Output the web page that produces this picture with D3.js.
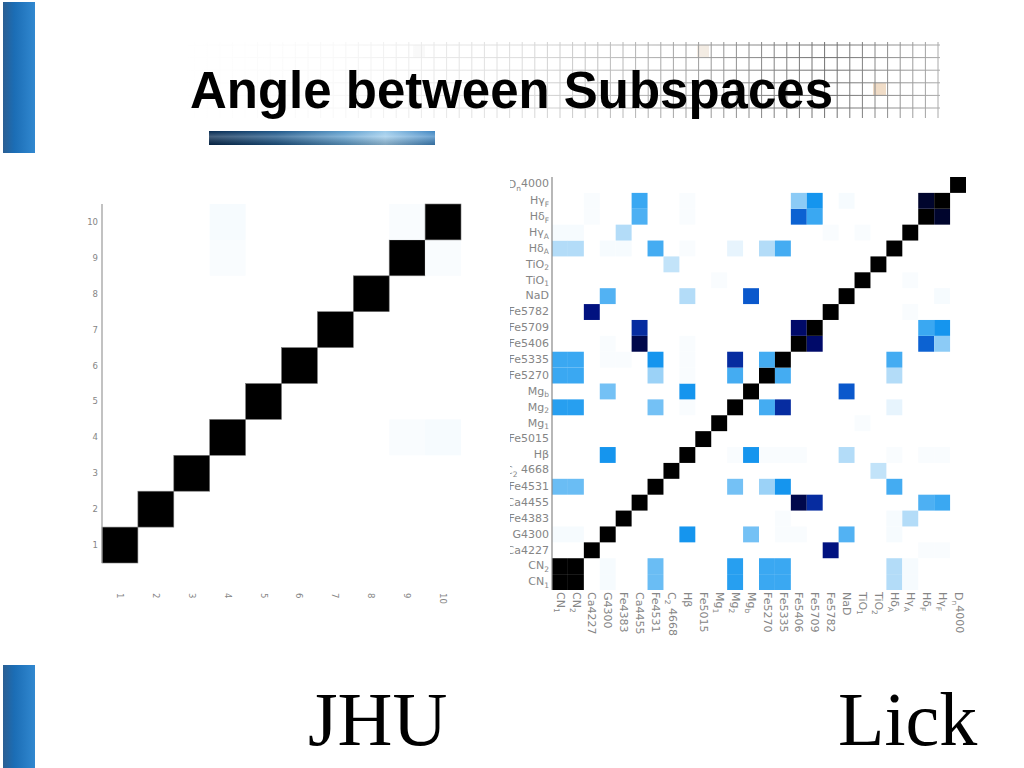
<!DOCTYPE html>
<html>
<head>
<meta charset="utf-8">
<script src="https://cdn.jsdelivr.net/npm/d3@7"></script>
<style>
  html, body { margin: 0; padding: 0; background: #ffffff; }
  svg { display: block; }
  .lab { font-family: "DejaVu Sans", "Liberation Sans", Arial, sans-serif; fill: #858585; }
</style>
</head>
<body>
<svg id="slide" width="1024" height="768"></svg>
<script>
// ---------------- DATA ----------------
const titleText = "Angle between Subspaces";
const leftCaption = "JHU";
const rightCaption = "Lick";

// JHU: 10 x 10 subspace indices
const jhuLabels = ["1","2","3","4","5","6","7","8","9","10"];
// off-diagonal (i, j, value) pairs, symmetric; diagonal = 1
const jhuPairs = [
  [3, 8, 0.025], [3, 9, 0.025], [8, 9, 0.02], [8, 3, 0.02], [9, 3, 0.03]
];

// Lick indices (bottom-to-top on y, left-to-right on x)
const lickLabels = ["CN_1","CN_2","Ca4227","G4300","Fe4383","Ca4455","Fe4531","C_2 4668",
  "Hβ","Fe5015","Mg_1","Mg_2","Mg_b","Fe5270","Fe5335","Fe5406","Fe5709","Fe5782",
  "NaD","TiO_1","TiO_2","Hδ_A","Hγ_A","Hδ_F","Hγ_F","D_n4000"];
// off-diagonal (i, j, value) pairs, symmetric; diagonal = 1
const lickPairs = [
  [0,1,1.0],
  [0,3,0.03],[1,3,0.03],
  [0,6,0.40],[1,6,0.40],
  [0,11,0.55],[1,11,0.55],
  [0,13,0.50],[1,13,0.50],
  [0,14,0.50],[1,14,0.50],
  [0,21,0.25],[1,21,0.25],
  [0,22,0.03],[1,22,0.03],
  [2,17,0.90],[2,23,0.02],[2,24,0.02],
  [3,8,0.60],[3,12,0.38],[3,18,0.45],[3,14,0.02],[3,15,0.02],[3,21,0.03],
  [4,22,0.25],[4,14,0.02],[4,21,0.03],
  [5,15,0.95],[5,16,0.82],[5,23,0.46],[5,24,0.50],
  [6,11,0.38],[6,13,0.30],[6,14,0.60],[6,21,0.48],
  [7,20,0.20],
  [8,12,0.60],[8,18,0.25],[8,11,0.02],[8,13,0.02],[8,14,0.02],[8,15,0.02],[8,21,0.02],[8,23,0.02],[8,24,0.02],
  [10,19,0.02],
  [11,13,0.48],[11,14,0.82],[11,21,0.08],
  [12,18,0.72],
  [13,14,0.48],[13,21,0.25],
  [14,21,0.48],
  [15,16,0.93],[15,23,0.70],[15,24,0.33],
  [16,23,0.50],[16,24,0.60],
  [17,22,0.02],[18,24,0.03],[19,22,0.02],
  [23,24,0.97]
];

// ---------------- HELPERS ----------------
const svg = d3.select("#slide");
const defs = svg.append("defs");

const colour = d3.scaleLinear()
  .domain([0, 0.25, 0.5, 0.6, 0.72, 0.82, 0.92, 1])
  .range(["#ffffff", "#b3dcf8", "#3aa8f2", "#1595ee", "#0a58cc", "#062ca0", "#000c78", "#000000"])
  .clamp(true);

function buildMatrix(n, pairs) {
  const m = d3.range(n).map(() => d3.range(n).map(() => 0));
  for (let i = 0; i < n; i++) m[i][i] = 1;
  pairs.forEach(([i, j, v]) => { m[i][j] = v; m[j][i] = v; });
  const cells = [];
  for (let i = 0; i < n; i++) for (let j = 0; j < n; j++) if (m[i][j] > 0) cells.push({ i, j, v: m[i][j] });
  return cells;
}

// write a label with "_x" subscript syntax into a text selection
function writeLabel(sel, label, subSize) {
  const k = label.indexOf("_");
  if (k < 0) { sel.text(label); return; }
  sel.append("tspan").text(label.slice(0, k));
  sel.append("tspan").attr("dy", "0.35em").attr("font-size", subSize).text(label.charAt(k + 1));
  const rest = label.slice(k + 2);
  if (rest.length) sel.append("tspan").attr("dy", "-0.35em").text(rest);
}

// ---------------- DECORATION ----------------
// side bars
const barGrad = defs.append("linearGradient").attr("id", "barGrad").attr("x1", 0).attr("x2", 1).attr("y1", 0).attr("y2", 0);
barGrad.append("stop").attr("offset", "0%").attr("stop-color", "#2b5f93");
barGrad.append("stop").attr("offset", "35%").attr("stop-color", "#1b6db5");
barGrad.append("stop").attr("offset", "100%").attr("stop-color", "#3188d0");
svg.append("rect").attr("x", 3).attr("y", 2).attr("width", 32).attr("height", 151).attr("fill", "url(#barGrad)");
svg.append("rect").attr("x", 3).attr("y", 665).attr("width", 32).attr("height", 103).attr("fill", "url(#barGrad)");

// fading grid behind the title
const gridFade = defs.append("linearGradient").attr("id", "gridFade").attr("gradientUnits", "userSpaceOnUse")
  .attr("x1", 180).attr("x2", 945).attr("y1", 0).attr("y2", 0);
gridFade.append("stop").attr("offset", "0%").attr("stop-color", "#fff").attr("stop-opacity", 0);
gridFade.append("stop").attr("offset", "20%").attr("stop-color", "#fff").attr("stop-opacity", 0.04);
gridFade.append("stop").attr("offset", "45%").attr("stop-color", "#fff").attr("stop-opacity", 0.2);
gridFade.append("stop").attr("offset", "85%").attr("stop-color", "#fff").attr("stop-opacity", 0.8);
gridFade.append("stop").attr("offset", "100%").attr("stop-color", "#fff").attr("stop-opacity", 0.45);
const gridMask = defs.append("mask").attr("id", "gridMask");
gridMask.append("rect").attr("x", 0).attr("y", 0).attr("width", 1024).attr("height", 200).attr("fill", "url(#gridFade)");

const grid = svg.append("g").attr("mask", "url(#gridMask)");
const gxs = d3.range(938, 185, -12.6);
const gys = d3.range(0, 6).map(k => 45 + 12.6 * k);
grid.append("rect").attr("x", 873).attr("y", 83).attr("width", 13).attr("height", 12).attr("fill", "#e8c9a8");
grid.append("rect").attr("x", 697).attr("y", 45).attr("width", 12).attr("height", 12).attr("fill", "#eadccd");
grid.append("rect").attr("x", 413).attr("y", 45).attr("width", 12).attr("height", 12).attr("fill", "#cccccc");
grid.selectAll("line.gv").data(gxs).join("line").attr("class", "gv")
  .attr("x1", d => d).attr("x2", d => d).attr("y1", 42).attr("y2", 118)
  .attr("stroke", "#4a4a4a").attr("stroke-width", 1);
grid.selectAll("line.gh").data(gys).join("line").attr("class", "gh")
  .attr("x1", 185).attr("x2", 940).attr("y1", d => d).attr("y2", d => d)
  .attr("stroke", "#4a4a4a").attr("stroke-width", 1);

// title
svg.append("text").attr("x", 190).attr("y", 108)
  .attr("font-family", "'Liberation Sans', Arial, Helvetica, sans-serif")
  .attr("font-weight", "bold").attr("font-size", 51)
  .attr("textLength", 643).attr("lengthAdjust", "spacingAndGlyphs")
  .attr("fill", "#000").text(titleText);

// underline bar
const ulGrad = defs.append("linearGradient").attr("id", "ulGrad").attr("x1", 0).attr("x2", 1).attr("y1", 0).attr("y2", 0);
ulGrad.append("stop").attr("offset", "0%").attr("stop-color", "#072a50");
ulGrad.append("stop").attr("offset", "30%").attr("stop-color", "#1d5688");
ulGrad.append("stop").attr("offset", "60%").attr("stop-color", "#5d9dcc");
ulGrad.append("stop").attr("offset", "78%").attr("stop-color", "#9ccbeb");
ulGrad.append("stop").attr("offset", "100%").attr("stop-color", "#3f86c2");
const ulShade = defs.append("linearGradient").attr("id", "ulShade").attr("x1", 0).attr("x2", 0).attr("y1", 0).attr("y2", 1);
ulShade.append("stop").attr("offset", "0%").attr("stop-color", "#fff").attr("stop-opacity", 0.0);
ulShade.append("stop").attr("offset", "40%").attr("stop-color", "#fff").attr("stop-opacity", 0.25);
ulShade.append("stop").attr("offset", "100%").attr("stop-color", "#000").attr("stop-opacity", 0.2);
svg.append("rect").attr("x", 209).attr("y", 131).attr("width", 226).attr("height", 14).attr("fill", "url(#ulGrad)");
svg.append("rect").attr("x", 209).attr("y", 131).attr("width", 226).attr("height", 14).attr("fill", "url(#ulShade)");

// ---------------- JHU HEATMAP ----------------
(function () {
  const n = jhuLabels.length;
  const x = d3.scaleBand().domain(d3.range(n)).range([102, 461]).padding(0);
  const y = d3.scaleBand().domain(d3.range(n)).range([563, 204]).padding(0);
  const g = svg.append("g");
  const cells = buildMatrix(n, jhuPairs);
  g.selectAll("rect.c").data(cells).join("rect").attr("class", "c")
    .attr("x", d => x(d.i)).attr("y", d => y(d.j))
    .attr("width", x.bandwidth()).attr("height", y.bandwidth())
    .attr("fill", d => colour(d.v))
    .attr("stroke", d => d.v >= 0.99 ? "#777" : "none").attr("stroke-width", 0.6);
  g.append("line").attr("x1", 102).attr("x2", 102).attr("y1", 204).attr("y2", 563)
    .attr("stroke", "#999").attr("stroke-width", 1.2);
  g.selectAll("text.yl").data(jhuLabels).join("text").attr("class", "yl lab")
    .attr("x", 98).attr("y", (d, i) => y(i) + y.bandwidth() / 2)
    .attr("dy", "0.35em").attr("text-anchor", "end").attr("font-size", 8.5).text(d => d);
  g.selectAll("text.xl").data(jhuLabels).join("text").attr("class", "xl lab")
    .attr("transform", (d, i) => `translate(${x(i) + x.bandwidth() / 2},593) rotate(90)`)
    .attr("dy", "0.35em").attr("text-anchor", "start").attr("font-size", 8.5).text(d => d);
})();

// ---------------- LICK HEATMAP ----------------
(function () {
  const n = lickLabels.length;
  const x = d3.scaleBand().domain(d3.range(n)).range([552, 966]).padding(0);
  const y = d3.scaleBand().domain(d3.range(n)).range([590, 177]).padding(0);
  defs.append("clipPath").attr("id", "lickClip")
    .append("rect").attr("x", 510).attr("y", 165).attr("width", 514).attr("height", 500);
  const g = svg.append("g").attr("clip-path", "url(#lickClip)");
  const cells = buildMatrix(n, lickPairs);
  g.selectAll("rect.c").data(cells).join("rect").attr("class", "c")
    .attr("x", d => x(d.i)).attr("y", d => y(d.j))
    .attr("width", x.bandwidth()).attr("height", y.bandwidth())
    .attr("fill", d => colour(d.v));
  g.append("line").attr("x1", 552).attr("x2", 552).attr("y1", 177).attr("y2", 590)
    .attr("stroke", "#888").attr("stroke-width", 1.2);
  g.selectAll("text.yl").data(lickLabels).join("text").attr("class", "yl lab")
    .attr("x", 549).attr("y", (d, i) => y(i) + y.bandwidth() / 2)
    .attr("dy", "0.3em").attr("text-anchor", "end").attr("font-size", 11)
    .each(function (d) { writeLabel(d3.select(this), d, 7.5); });
  g.selectAll("text.xl").data(lickLabels).join("text").attr("class", "xl lab")
    .attr("transform", (d, i) => `translate(${x(i) + x.bandwidth() / 2},592) rotate(90)`)
    .attr("dy", "0.3em").attr("text-anchor", "start").attr("font-size", 11)
    .each(function (d) { writeLabel(d3.select(this), d, 7.5); });
})();

// ---------------- CAPTIONS ----------------
svg.append("text").attr("x", 308).attr("y", 745)
  .attr("font-family", "'Liberation Serif', 'Times New Roman', serif").attr("font-size", 76)
  .attr("fill", "#000").text(leftCaption);
svg.append("text").attr("x", 838).attr("y", 745)
  .attr("font-family", "'Liberation Serif', 'Times New Roman', serif").attr("font-size", 76)
  .attr("fill", "#000").text(rightCaption);
</script>
</body>
</html>
